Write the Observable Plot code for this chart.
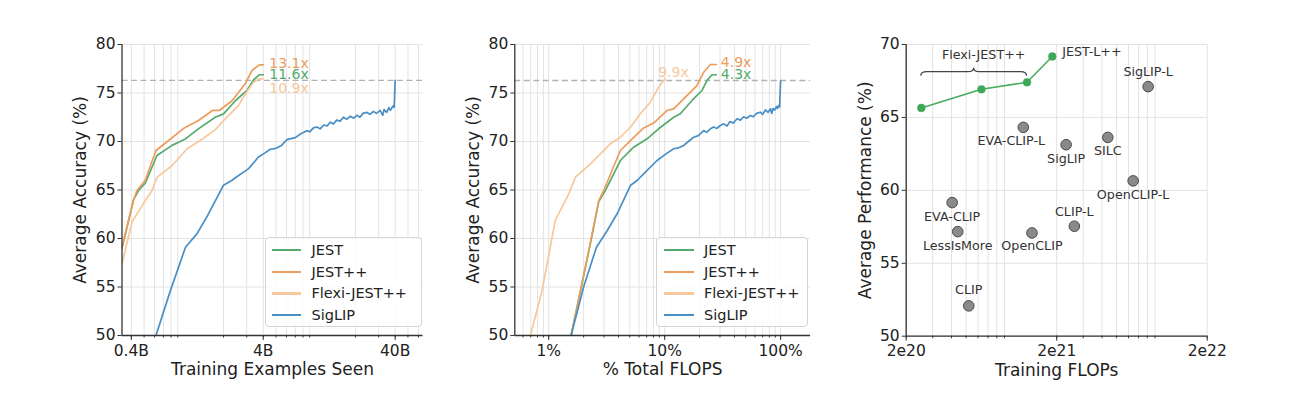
<!DOCTYPE html>
<html><head><meta charset="utf-8">
<script src="https://cdn.jsdelivr.net/npm/d3@7"></script>
<script src="https://cdn.jsdelivr.net/npm/@observablehq/plot@0.6"></script>
<style>
body{margin:0;background:#fff;font-family:"DejaVu Sans",sans-serif;}
#wrap{position:relative;width:1292px;height:399px;overflow:hidden;background:#fff;}
.panel{position:absolute;top:0;}
.legend{position:absolute;border:1px solid #d4d4d4;border-radius:4px;background:rgba(255,255,255,0.85);box-sizing:border-box;font-size:14.5px;color:#222;}
.legend .item{position:absolute;height:20px;line-height:20px;white-space:nowrap;}
.legend .sw{position:absolute;height:2.2px;top:9px;}
.legend .tx{position:absolute;top:0;}
</style></head><body><div id="wrap"></div>
<script>
// ---------- DATA ----------
const methods = ["JEST", "JEST++", "Flexi-JEST++", "SigLIP"];
// Panel 1: training examples seen (billions) vs average accuracy (%)
const jestExamples = [[0.34,59.0],[0.416,64.0],[0.454,64.95],[0.51,65.7],[0.626,68.56],[0.813,69.6],[1.01,70.2],[1.29,71.3],[1.73,72.5],[2.0,72.85],[2.46,74.2],[3.01,75.26],[3.38,76.36],[3.73,76.88],[4.0,76.88]];
const jestppExamples = [[0.34,59.1],[0.416,64.0],[0.442,64.95],[0.51,66.0],[0.615,69.07],[0.767,70.1],[1.01,71.4],[1.29,72.16],[1.65,73.2],[1.86,73.2],[2.32,74.2],[2.92,75.95],[3.28,77.3],[3.73,77.9],[4.0,77.9]];
const flexiExamples = [[0.34,57.4],[0.405,61.7],[0.51,63.9],[0.574,64.95],[0.626,66.3],[0.813,67.5],[1.06,69.25],[1.33,70.1],[1.73,71.2],[2.06,72.34],[2.6,73.7],[2.92,74.9],[3.38,76.1],[3.73,76.46],[4.0,76.46]];
const siglipExamples = [[0.615,50.0],[0.79,54.6],[1.03,59.1],[1.26,60.5],[1.52,62.4],[2.0,65.5],[2.32,66.0],[2.6,66.5],[3.1,67.2],[3.68,68.4],[4.1,68.8],[4.52,69.2],[5.0,69.3],[5.5,69.6],[6.05,70.2],[6.5,70.3],[7.0,70.4],[7.7,70.8],[8.57,71.1],[9.0,71.0],[9.6,71.4],[10.2,71.5],[10.8,71.3],[11.5,71.7],[12.2,71.6],[12.9,72.0],[13.6,71.8],[14.4,72.2],[15.3,72.1],[16.2,72.5],[17.2,72.3],[18.3,72.6],[19.4,72.4],[20.5,72.7],[21.6,72.5],[22.8,72.9],[24.4,73.0],[25.8,72.8],[27.3,73.1],[28.9,72.9],[30.8,73.2],[32.2,72.7],[33.0,73.3],[34.5,73.0],[35.8,73.5],[36.8,73.2],[37.8,73.5],[38.9,73.7],[39.3,73.5],[40.0,76.3]];
const speedups1 = ["11.6x", "13.1x", "10.9x"];
// Panel 2: % total FLOPS vs average accuracy (%)
const jestFlops = [[1.56,50],[2.29,59.5],[2.70,63.8],[3.08,64.95],[4.15,68.04],[5.40,69.41],[7.05,70.28],[8.87,71.31],[11.96,72.5],[13.65,72.86],[17.2,74.23],[21.0,75.26],[23.2,76.3],[25.6,76.88],[27.9,76.88]];
const jestppFlops = [[1.56,50],[2.29,59.6],[2.70,63.9],[2.98,64.95],[4.15,69.07],[5.06,70.1],[6.59,71.4],[8.04,71.9],[10.5,73.2],[11.96,73.37],[14.6,74.4],[19.0,75.77],[21.7,77.14],[24.8,77.94],[27.9,77.94]];
const flexiFlopsPct = [[0.695,50],[0.877,54.64],[1.07,60.13],[1.14,61.86],[1.49,64.6],[1.70,66.32],[2.29,67.7],[3.40,69.76],[4.15,70.44],[5.06,71.47],[6.17,72.86],[7.53,74.05],[8.87,75.6],[10.1,76.46]];
const siglipFlops = [[1.56,50],[2.0,55.0],[2.58,59.1],[3.19,60.8],[3.89,62.55],[5.06,65.46],[5.78,65.98],[6.59,66.67],[8.6,68.04],[10.2,68.7],[11.96,69.25],[13.2,69.35],[14.6,69.59],[16.0,70.0],[17.8,70.44],[19.5,70.6],[21.7,71.13],[23.0,70.95],[24.8,71.31],[26.5,71.5],[28.2,71.35],[30.2,71.65],[32.3,71.82],[34.5,71.6],[36.5,72.05],[39,71.9],[42.1,72.34],[45,72.2],[48,72.55],[51,72.4],[54.8,72.68],[58,72.55],[62,72.9],[66.8,73.02],[70,72.8],[74,73.25],[78,73.0],[81.5,73.37],[84,72.9],[86,73.4],[89,73.25],[92,73.6],[94,73.4],[96.1,73.71],[98,73.55],[100,76.29]];
const speedups2 = ["4.3x", "4.9x", "9.9x"];
// Panel 3: training FLOPs vs average performance (%)
const flexiNames = ["Flexi-JEST++", "Flexi-JEST++", "Flexi-JEST++", "JEST-L++"];
const flexiTrainFlops = [2.52e20, 6.33e20, 1.27e21, 1.87e21];
const flexiPerf = [65.65, 66.93, 67.41, 69.18];
const baselineModels = ["EVA-CLIP-L", "SigLIP", "SILC", "SigLIP-L", "OpenCLIP-L", "EVA-CLIP", "LessIsMore", "OpenCLIP", "CLIP-L", "CLIP"];
const baselineFlops = [1.2e21, 2.31e21, 4.37e21, 8.1e21, 6.44e21, 4.04e20, 4.4e20, 1.37e21, 2.62e21, 5.21e20];
const baselinePerf = [64.32, 63.13, 63.63, 67.11, 60.65, 59.16, 57.17, 57.08, 57.54, 52.08];
// ticks
const yTicks12 = [50, 55, 60, 65, 70, 75, 80];
const yTicks3 = [50, 55, 60, 65, 70];
const xTicks1 = [0.4, 4, 40], xTickLabels1 = ["0.4B", "4B", "40B"];
const xTicks2 = [1, 10, 100], xTickLabels2 = ["1%", "10%", "100%"];
const xTicks3 = [2e20, 2e21, 2e22], xTickLabels3 = ["2e20", "2e21", "2e22"];

// ---------- STYLE ----------
const colors = {"JEST": "#55ab6d", "JEST++": "#ee9c5c", "Flexi-JEST++": "#f6c89c", "SigLIP": "#4a8fc4"};
const gridColor = "#e3e3e3", spine = "#333", textColor = "#222";
const font = "DejaVu Sans";

function minorLog(lo, hi, skip) {
  const out = [];
  for (let e = Math.floor(Math.log10(lo)) - 1; e <= Math.ceil(Math.log10(hi)); e++) {
    for (let m = 1; m <= 9; m++) {
      const v = m * Math.pow(10, e);
      if (v >= lo * 0.999 && v <= hi * 1.001 && !(skip && m === 1)) out.push(+v.toPrecision(6));
    }
  }
  return out;
}

function axisMarks(grid, ticks, labels, yTicks, x0, ylabel, xlabel, ylabDx) {
  return [
    Plot.ruleX([x0], {stroke: spine, strokeWidth: 1.3}),
    Plot.ruleY([50], {stroke: spine, strokeWidth: 1.3}),
    Plot.axisX(grid, {tickSize: 2.5, text: null, tickFormat: () => "", stroke: spine, label: null}),
    Plot.axisX(ticks, {tickSize: 5, text: null, tickFormat: () => "", stroke: spine, label: null}),
    Plot.text(ticks, {x: d => d, frameAnchor: "bottom", lineAnchor: "top", dy: 9, text: (d, i) => labels[i], fill: textColor, fontSize: 15.5}),
    Plot.axisY(yTicks, {tickSize: 4, tickPadding: 2.5, stroke: spine, fill: textColor, label: null}),
    Plot.text([ylabel], {frameAnchor: "left", textAnchor: "middle", lineAnchor: "middle", text: d => d, rotate: -90, dx: ylabDx, fontSize: 17, fill: textColor}),
    Plot.text([xlabel], {frameAnchor: "bottom", textAnchor: "middle", lineAnchor: "middle", text: d => d, dy: 34, fontSize: 17, fill: textColor})
  ];
}

function linePanel(cfg) {
  const marks = [
    Plot.ruleX(cfg.grid, {stroke: gridColor, strokeWidth: 1}),
    Plot.ruleY(yTicks12, {stroke: gridColor, strokeWidth: 1}),
    Plot.ruleY([cfg.series[3].data[cfg.series[3].data.length - 1][1]], {stroke: "#b2b2b2", strokeWidth: 1.4, strokeDasharray: "6,3.5"})
  ];
  cfg.series.forEach(s => {
    marks.push(Plot.line(s.data, {x: d => d[0], y: d => d[1], stroke: colors[s.name], strokeWidth: 1.7, clip: true}));
  });
  cfg.series.forEach(s => {
    if (!s.label) return;
    const last = s.data[s.data.length - 1];
    marks.push(Plot.text([last], {x: d => d[0], y: d => d[1], text: () => s.label, fill: colors[s.name], textAnchor: "start", dx: s.dx, dy: s.dy, fontSize: 14}));
  });
  marks.push(...axisMarks(cfg.grid, cfg.xTicks, cfg.xLabels, yTicks12, cfg.xDomain[0], cfg.ylabel, cfg.xlabel, -41));
  return Plot.plot({
    width: cfg.width, height: 399,
    marginLeft: cfg.ml, marginRight: cfg.mr, marginTop: 44, marginBottom: 64,
    x: {type: "log", domain: cfg.xDomain},
    y: {domain: [50, 80]},
    style: {fontFamily: font, fontSize: "15.5px", color: textColor, background: "transparent", overflow: "visible"},
    marks
  });
}

const wrap = document.getElementById("wrap");
function place(el, left) { el.classList.add("panel"); el.style.left = left + "px"; wrap.appendChild(el); }

// Panel 1
place(linePanel({
  width: 440, ml: 121.5, mr: 17.5, xDomain: [0.34, 65],
  grid: minorLog(0.34, 65, true).concat(xTicks1).filter((v, i, a) => a.indexOf(v) === i),
  xTicks: xTicks1, xLabels: xTickLabels1,
  ylabel: "Average Accuracy (%)", xlabel: "Training Examples Seen",
  series: [
    {name: "JEST", data: jestExamples, label: speedups1[0], dx: 6, dy: -0.5},
    {name: "JEST++", data: jestppExamples, label: speedups1[1], dx: 6, dy: -1},
    {name: "Flexi-JEST++", data: flexiExamples, label: speedups1[2], dx: 6, dy: 9.8},
    {name: "SigLIP", data: siglipExamples}
  ]
}), 0);

// Panel 2
place(linePanel({
  width: 400, ml: 74.3, mr: 30, xDomain: [0.51, 181],
  grid: minorLog(0.51, 181, false),
  xTicks: xTicks2, xLabels: xTickLabels2,
  ylabel: "Average Accuracy (%)", xlabel: "% Total FLOPS",
  series: [
    {name: "JEST", data: jestFlops, label: speedups2[0], dx: 4.5, dy: -0.5},
    {name: "JEST++", data: jestppFlops, label: speedups2[1], dx: 4.5, dy: -1.6},
    {name: "Flexi-JEST++", data: flexiFlopsPct, label: speedups2[2], dx: -7, dy: -6.5},
    {name: "SigLIP", data: siglipFlops}
  ]
}), 440);

// Legends
function legend(left, width, swOff, swW, txOff) {
  const box = document.createElement("div");
  box.className = "legend";
  Object.assign(box.style, {left: left + "px", top: "237px", width: width + "px", height: "90px"});
  methods.forEach((m, i) => {
    const it = document.createElement("div");
    it.className = "item";
    it.style.top = (2 + i * 21.7) + "px";
    it.style.left = "0px";
    const sw = document.createElement("span");
    sw.className = "sw";
    Object.assign(sw.style, {left: swOff + "px", width: swW + "px", background: colors[m]});
    const tx = document.createElement("span");
    tx.className = "tx";
    tx.style.left = txOff + "px";
    tx.textContent = m;
    it.appendChild(sw); it.appendChild(tx);
    box.appendChild(it);
  });
  wrap.appendChild(box);
}
legend(265, 157, 5.5, 29.5, 45.5);
legend(656, 152, 6.5, 30, 47);

// Panel 3
const braceLevel = 68.1;
const p3Labels = [
  {dx: -12, dy: 14}, {dx: 0, dy: 14}, {dx: 0, dy: 14}, {dx: 0, dy: -14.5}, {dx: 0, dy: 14},
  {dx: 0, dy: 14}, {dx: 0, dy: 14}, {dx: 0, dy: 13}, {dx: 0, dy: -14.5}, {dx: 0, dy: -16}
];
const baseRows = baselineModels.map((m, i) => ({m, x: baselineFlops[i], y: baselinePerf[i]}));
const flexiRows = flexiNames.map((m, i) => ({m, x: flexiTrainFlops[i], y: flexiPerf[i]}));
const grid3 = minorLog(2e20, 2e22, true);
const marks3 = [
  Plot.ruleX(grid3, {stroke: gridColor, strokeWidth: 1}),
  Plot.ruleY(yTicks3, {stroke: gridColor, strokeWidth: 1}),
  Plot.dot(baseRows, {x: "x", y: "y", r: 5.3, fill: "#8a8a8a", stroke: "#4a4a4a", strokeWidth: 1}),
  Plot.line(flexiRows, {x: "x", y: "y", stroke: "#49ac5e", strokeWidth: 1.6}),
  Plot.dot(flexiRows, {x: "x", y: "y", r: 3.9, fill: "#3da856", stroke: "#3da856", strokeWidth: 0.5}),
  ...baseRows.map((r, i) => Plot.text([r], {x: "x", y: "y", text: "m", dx: p3Labels[i].dx, dy: p3Labels[i].dy, fontSize: 12.7, fill: "#333"})),
  Plot.text([flexiRows[flexiRows.length - 1]], {x: "x", y: "y", text: "m", textAnchor: "start", dx: 10, dy: -4.5, fontSize: 12.7, fill: "#333"}),
  (index, scales) => {
    const x0 = scales.x(flexiTrainFlops[0]), x1 = scales.x(flexiTrainFlops[2]), yb = scales.y(braceLevel);
    const xm = (x0 + x1) / 2;
    const g = d3.create("svg:g");
    const d = `M${x0},${yb + 4} Q${x0},${yb} ${x0 + 6},${yb} L${xm - 6},${yb} Q${xm},${yb} ${xm},${yb - 4} Q${xm},${yb} ${xm + 6},${yb} L${x1 - 6},${yb} Q${x1},${yb} ${x1},${yb + 4}`;
    g.append("path").attr("d", d).attr("fill", "none").attr("stroke", "#444").attr("stroke-width", 1.2);
    g.append("text").attr("x", xm + 10).attr("y", yb - 17).attr("dy", "0.35em").attr("text-anchor", "middle")
      .attr("font-size", 12.7).attr("fill", "#333").text(flexiNames[0]);
    return g.node();
  },
  ...axisMarks(grid3, xTicks3, xTickLabels3, yTicks3, 2e20, "Average Performance (%)", "Training FLOPs", -40.7)
];
place(Plot.plot({
  width: 452, height: 399, marginLeft: 65.7, marginRight: 85.3, marginTop: 44, marginBottom: 63.3,
  x: {type: "log", domain: [2e20, 2e22]},
  y: {domain: [50, 70]},
  style: {fontFamily: font, fontSize: "15.5px", color: textColor, background: "transparent", overflow: "visible"},
  marks: marks3
}), 840);
</script></body></html>
